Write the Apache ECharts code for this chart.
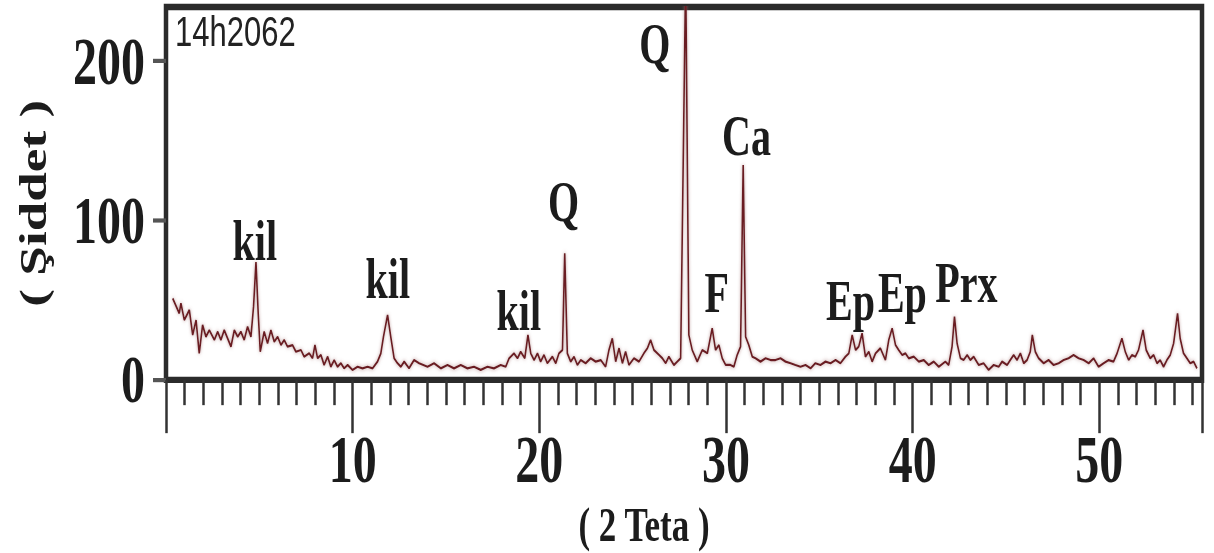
<!DOCTYPE html>
<html>
<head>
<meta charset="utf-8">
<script src="https://cdn.jsdelivr.net/npm/echarts@6/dist/echarts.min.js"></script>
<style>
  html { overflow: hidden; }
  html, body { margin: 0; padding: 0; background: #fff; width: 1214px; height: 553px; }
  /* the scanned figure is stretched vertically, so the whole chart is too */
  #chart { width: 1214px; height: 395px; transform: scaleY(1.4); transform-origin: 0 0; }
</style>
</head>
<body>
<div id="chart"></div>
<script>
const twoTheta = [
  0.36, 0.71, 0.80, 0.98, 1.25, 1.43, 1.61, 1.78, 1.96, 2.14, 2.32, 2.59, 2.77, 2.94, 3.12, 3.30,
  3.48, 3.66, 3.84, 4.01, 4.19, 4.37, 4.55, 4.69, 4.82, 4.94, 5.05, 5.26, 5.44, 5.62, 5.80, 5.98,
  6.16, 6.33, 6.51, 6.78, 6.96, 7.23, 7.40, 7.67, 7.85, 7.98, 8.12, 8.30, 8.47, 8.66, 8.83, 9.01,
  9.19, 9.37, 9.54, 9.73, 9.99, 10.26, 10.53, 10.80, 11.07, 11.33, 11.51, 11.65, 11.87, 12.04, 12.22, 12.40,
  12.58, 12.76, 13.02, 13.29, 13.56, 14.01, 14.36, 14.72, 15.08, 15.43, 15.79, 16.15, 16.50, 16.86, 17.22, 17.57,
  17.93, 18.20, 18.38, 18.64, 18.83, 19.00, 19.22, 19.39, 19.54, 19.72, 19.90, 20.07, 20.25, 20.43, 20.70, 20.88,
  21.05, 21.24, 21.36, 21.50, 21.68, 21.86, 22.04, 22.22, 22.48, 22.75, 23.02, 23.29, 23.55, 23.73, 23.91, 24.09,
  24.27, 24.45, 24.62, 24.80, 25.07, 25.34, 25.60, 25.79, 25.96, 26.14, 26.41, 26.59, 26.77, 26.94, 27.21, 27.39,
  27.57, 27.84, 28.01, 28.19, 28.46, 28.73, 29.00, 29.26, 29.44, 29.62, 29.80, 29.98, 30.24, 30.42, 30.60, 30.78,
  30.92, 31.05, 31.22, 31.41, 31.58, 31.85, 32.12, 32.39, 32.65, 32.92, 33.19, 33.46, 33.72, 33.99, 34.26, 34.53,
  34.79, 35.06, 35.33, 35.60, 35.87, 36.13, 36.40, 36.58, 36.76, 36.94, 37.11, 37.29, 37.47, 37.65, 37.83, 38.01,
  38.27, 38.54, 38.72, 38.90, 39.08, 39.25, 39.44, 39.61, 39.79, 40.06, 40.33, 40.59, 40.86, 41.13, 41.40, 41.75,
  41.93, 42.11, 42.24, 42.38, 42.56, 42.73, 42.92, 43.09, 43.27, 43.54, 43.80, 44.07, 44.34, 44.61, 44.79, 45.06,
  45.23, 45.41, 45.59, 45.77, 45.95, 46.13, 46.30, 46.41, 46.57, 46.75, 47.02, 47.28, 47.55, 47.82, 48.09, 48.35,
  48.62, 48.89, 49.16, 49.43, 49.69, 49.96, 50.23, 50.50, 50.76, 50.95, 51.21, 51.39, 51.57, 51.75, 51.93, 52.10,
  52.34, 52.51, 52.73, 52.91, 53.09, 53.26, 53.44, 53.62, 53.80, 53.98, 54.19, 54.33, 54.51, 54.69, 54.87, 55.05,
  55.23
];
const intensity = [
  51.2, 41.8, 48.1, 37.6, 43.9, 28.2, 37.6, 16.7, 34.5, 27.1, 31.3, 25.1, 30.3, 25.1, 31.3, 26.1,
  20.9, 31.3, 27.1, 30.3, 25.1, 33.4, 27.1, 46.0, 74.0, 41.8, 17.7, 30.3, 23.0, 31.3, 24.0, 27.1,
  21.9, 25.1, 20.9, 21.9, 17.7, 18.8, 14.6, 16.7, 13.6, 21.9, 13.6, 15.7, 9.4, 14.6, 8.3, 12.5,
  8.3, 10.5, 7.3, 9.4, 6.3, 8.3, 7.3, 8.3, 7.3, 11.5, 16.7, 27.1, 40.8, 27.1, 13.6, 10.5,
  8.3, 11.5, 7.3, 12.5, 10.5, 8.3, 10.5, 7.3, 9.4, 7.3, 9.4, 7.3, 8.3, 6.3, 8.3, 7.3,
  9.4, 8.3, 13.6, 16.7, 13.6, 17.7, 13.6, 28.2, 16.7, 12.5, 16.7, 11.5, 15.7, 10.5, 14.6, 10.5,
  16.7, 18.8, 79.4, 16.7, 11.5, 14.6, 9.4, 12.5, 10.5, 13.6, 11.5, 12.5, 8.3, 18.8, 26.1, 11.5,
  19.9, 10.5, 17.7, 9.4, 13.6, 11.5, 16.7, 19.9, 25.1, 18.8, 15.7, 13.6, 10.5, 14.6, 9.4, 11.5,
  13.6, 255, 28.2, 18.8, 11.5, 18.8, 16.7, 32.4, 18.8, 21.9, 13.6, 9.4, 9.4, 8.3, 15.7, 20.9,
  134.8, 27.1, 21.9, 14.6, 13.6, 11.5, 13.6, 12.5, 12.5, 13.6, 11.5, 10.5, 9.4, 8.3, 9.4, 7.3,
  10.5, 9.4, 11.5, 10.5, 12.5, 10.5, 14.6, 16.7, 28.2, 18.8, 20.9, 29.3, 14.6, 17.7, 11.5, 16.7,
  19.9, 12.5, 25.1, 32.4, 21.9, 18.8, 15.7, 16.7, 13.6, 14.6, 11.5, 12.5, 9.4, 11.5, 8.3, 11.5,
  9.4, 20.9, 39.7, 23.0, 13.6, 12.5, 15.7, 12.5, 14.6, 9.4, 10.5, 6.3, 9.4, 8.3, 11.5, 9.4,
  12.5, 15.7, 12.5, 16.7, 10.5, 12.5, 17.7, 28.2, 17.7, 13.6, 10.5, 12.5, 9.4, 10.5, 12.5, 13.6,
  15.7, 13.6, 12.5, 10.5, 13.6, 8.3, 10.5, 12.5, 11.5, 16.7, 26.1, 17.7, 12.5, 15.7, 14.6, 18.8,
  31.3, 18.8, 13.6, 15.7, 10.5, 12.5, 8.3, 12.5, 15.7, 23.0, 41.8, 26.1, 16.7, 13.6, 10.5, 11.5,
  7.3
];

// mineral labels and where they sit (2 theta, intensity)
const peakNames = ['kil', 'kil', 'kil', 'Q', 'Q', 'F', 'Ca', 'Ep', 'Ep', 'Prx'];
const peakLabelX = [4.76, 11.88, 18.90, 21.30, 26.18, 29.50, 31.10, 36.67, 39.45, 42.88];
const peakLabelY = [86.8, 63.0, 42.9, 111.3, 210.4, 54.2, 152.7, 49.2, 54.5, 60.5];

const serif = 'Liberation Serif';
const ink = '#1c1c1c';

const chart = echarts.init(document.getElementById('chart'), null, { renderer: 'svg' });

chart.setOption({
  animation: false,
  title: {
    text: '14h2062',
    left: 175,
    top: 7,
    padding: 0,
    textStyle: { fontFamily: 'Liberation Sans', fontSize: 31, fontWeight: 'normal', color: '#222' }
  },
  grid: {
    left: 166, right: 12, top: 5, bottom: 123.6,
    outerBoundsMode: 'none',
    show: true,
    borderColor: '#2b2b2b',
    borderWidth: 4.5
  },
  xAxis: {
    type: 'value',
    min: 0,
    max: 55.5,
    interval: 10,
    name: '( 2 Teta )',
    nameLocation: 'middle',
    nameGap: 72,
    nameTextStyle: { fontFamily: serif, fontSize: 35, fontWeight: 'bold', color: ink, padding: [0, 80, 0, 0] },
    axisLine: { show: false },
    axisTick: { length: 38, lineStyle: { color: '#333', width: 2.5 } },
    minorTick: { show: true, splitNumber: 10, length: 18, lineStyle: { color: '#333', width: 2.5 } },
    axisLabel: {
      margin: 33,
      showMinLabel: false,
      showMaxLabel: false,
      fontFamily: serif, fontSize: 48, fontWeight: 'bold', color: ink
    },
    splitLine: { show: false }
  },
  yAxis: {
    type: 'value',
    min: 0,
    max: 234,
    interval: 100,
    name: '( Şiddet )',
    nameLocation: 'middle',
    nameGap: 114,
    nameTextStyle: { fontFamily: serif, fontSize: 38, fontWeight: 'bold', color: ink, padding: [0, 14, 0, 0] },
    axisLine: { show: false },
    axisTick: { length: 13, lineStyle: { color: '#555', width: 3 } },
    axisLabel: {
      margin: 21,
      showMaxLabel: false,
      fontFamily: serif, fontSize: 48, fontWeight: 'bold', color: ink
    },
    splitLine: { show: false }
  },
  series: [
    {
      type: 'line',
      data: twoTheta.map((t, i) => [t, intensity[i]]),
      symbol: 'none',
      clip: true,
      lineStyle: {
        color: '#6b1c22',
        width: 1.6,
        shadowColor: 'rgba(160,110,110,0.7)',
        shadowBlur: 3
      },
      markPoint: {
        symbol: 'circle',
        symbolSize: 1,
        itemStyle: { color: 'rgba(0,0,0,0)' },
        label: {
          show: true,
          position: 'inside',
          formatter: '{b}',
          fontFamily: serif, fontSize: 40, fontWeight: 'bold', color: ink
        },
        data: peakNames.map((n, i) => ({ name: n, coord: [peakLabelX[i], peakLabelY[i]] }))
      }
    }
  ]
});
</script>
</body>
</html>
